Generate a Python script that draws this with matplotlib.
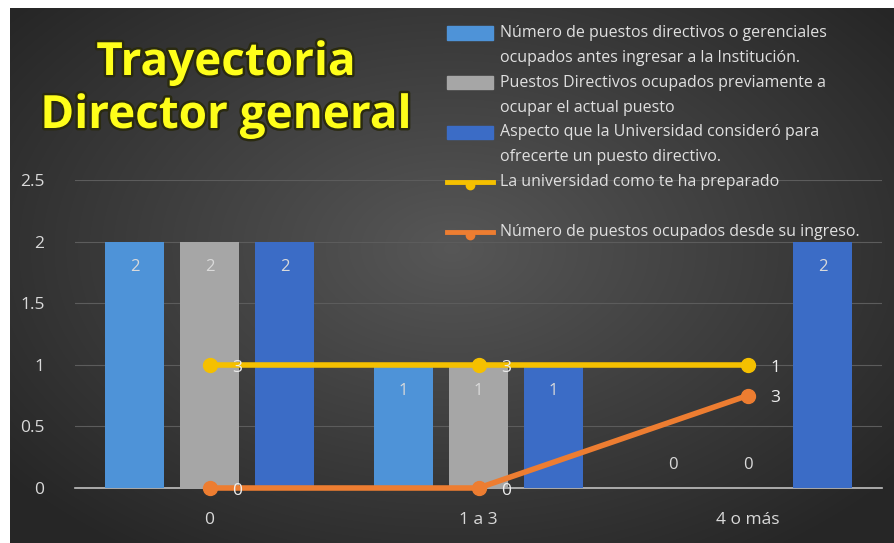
import numpy as np
import matplotlib.pyplot as plt
import matplotlib.patheffects as pe
from matplotlib.patches import Rectangle
from matplotlib.lines import Line2D

plt.rcParams['font.family'] = ['Open Sans', 'DejaVu Sans']

categories = ['0', '1 a 3', '4 o más']
bar_names = [
    ['Número de puestos directivos o gerenciales', 'ocupados antes ingresar a la Institución.'],
    ['Puestos Directivos ocupados previamente a', 'ocupar el actual puesto'],
    ['Aspecto que la Universidad consideró para', 'ofrecerte un puesto directivo.'],
]
bar_values = [
    [2, 1, 0],
    [2, 1, 0],
    [2, 1, 2],
]
bar_colors = ['#4e93d8', '#a6a6a6', '#3b6cc6']

line_names = ['La universidad como te ha preparado', 'Número de puestos ocupados desde su ingreso.']
line_values = [
    [1, 1, 1],
    [0, 0, 0.75],
]
line_labels = [
    ['3', '3', '1'],
    ['0', '0', '3'],
]
line_colors = ['#f5c000', '#ed7d31']

W, H = 894, 543
fig = plt.figure(figsize=(W / 100, H / 100), dpi=100, facecolor='white')

# dark radial background
bg = fig.add_axes([10 / W, 0, (W - 10) / W, (H - 8) / H])
yy, xx = np.mgrid[0:1:300j, 0:1:500j]
r = np.sqrt(((xx - 0.5) / 0.75) ** 2 + ((yy - 0.45) / 0.8) ** 2)
shade = np.clip(0.34 - 0.22 * r, 0.15, 0.34)
bg.imshow(np.dstack([shade] * 3), aspect='auto', extent=[0, 1, 0, 1], interpolation='bilinear')
bg.axis('off')

ax = fig.add_axes([75 / W, 55 / H, 807 / W, 308 / H])
ax.set_facecolor('none')
x = np.arange(len(categories))
offs = [-0.279, 0, 0.279]
bw = 0.22
for vals, off, col in zip(bar_values, offs, bar_colors):
    bars = ax.bar(x + off, vals, width=bw, color=col, zorder=2)
    for b, v in zip(bars, vals):
        ly = v - 0.21 if v > 0 else 0.19
        ax.text(b.get_x() + b.get_width() / 2, ly, str(v), ha='center', va='center',
                color='#dadada', fontsize=12, zorder=3)

for vals, labs, col in zip(line_values, line_labels, line_colors):
    ax.plot(x, vals, color=col, lw=4, marker='o', ms=10, zorder=4, clip_on=False,
            solid_capstyle='round')
    for xi, v, lab in zip(x, vals, labs):
        ax.annotate(lab, (xi, v), xytext=(20, -2), textcoords='offset points',
                    ha='center', va='center', color='#eeeeee', fontsize=12.5, zorder=5)

ax.set_xlim(-0.5, 2.5)
ax.set_ylim(0, 2.5)
ax.set_yticks([0, 0.5, 1, 1.5, 2, 2.5])
ax.set_yticklabels(['0', '0.5', '1', '1.5', '2', '2.5'])
ax.set_xticks(x)
ax.set_xticklabels(categories)
ax.tick_params(length=0, colors='#d9d9d9', labelsize=12.5)
ax.tick_params(axis='y', pad=22)
ax.tick_params(axis='x', pad=17)
ax.yaxis.grid(True, color='#5c5c5c', lw=0.8, zorder=0)
ax.set_axisbelow(True)
for s in ['top', 'right', 'left']:
    ax.spines[s].set_visible(False)
ax.spines['bottom'].set_color('#c0c0c0')
ax.spines['bottom'].set_linewidth(1.2)
ax.spines['bottom'].set_zorder(1)

# title
for txt, yb in [('Trayectoria', 75), ('Director general', 128)]:
    fig.text(226 / W, 1 - yb / H, txt, ha='center', va='baseline', fontsize=33,
             fontweight='bold', color='#ffff1a',
             path_effects=[pe.withStroke(linewidth=3.5, foreground='#2a2a10')])

# legend
row_h = 24.85
y0 = 33
def fy(row):
    return 1 - (y0 + row * row_h) / H

row = 0
for names, col in zip(bar_names, bar_colors):
    fig.patches.append(Rectangle((447 / W, fy(row) - 6.5 / H), 46 / W, 13 / H,
                                 color=col, transform=fig.transFigure, figure=fig))
    for i, t in enumerate(names):
        fig.text(500 / W, fy(row + i), t, ha='left', va='center', color='#e0e0e0', fontsize=11.5)
    row += 2
for name, col in zip(line_names, line_colors):
    fig.lines.append(Line2D([447 / W, 493 / W], [fy(row), fy(row)], color=col, lw=3.5,
                            transform=fig.transFigure, figure=fig))
    fig.lines.append(Line2D([470 / W], [fy(row) - 3 / H], color=col, marker='o', ms=6,
                            transform=fig.transFigure, figure=fig))
    fig.text(500 / W, fy(row), name, ha='left', va='center', color='#e0e0e0', fontsize=11.5)
    row += 2

fig.savefig('out.png', dpi=100, facecolor='white')
